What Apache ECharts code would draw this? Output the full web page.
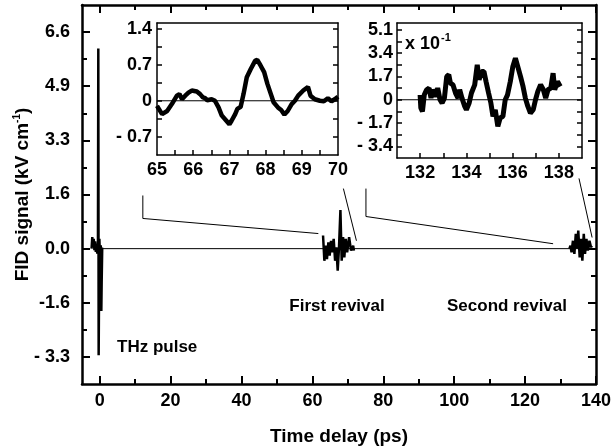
<!DOCTYPE html>
<html>
<head>
<meta charset="utf-8">
<script src="https://cdn.jsdelivr.net/npm/echarts@6/dist/echarts.min.js"></script>
<style>
html,body{margin:0;padding:0;background:#fff;}
#c{width:613px;height:448px;}
</style>
</head>
<body>
<div id="c"></div>
<script>
// ---------- data ----------
const thzPulse = [[-2.3,0.0],[-2.1,0.35],[-1.9,0.05],[-1.7,0.3],[-1.5,-0.05],[-1.3,0.22],[-1.1,-0.1],[-0.9,0.12],[-0.7,-0.15],[-0.5,0.2],[-0.4,6.1],[-0.3,-3.25],[-0.1,0.3],[0.1,-0.35],[0.3,0.1],[0.45,-1.9],[0.55,-1.0],[0.7,0.0],[1.0,0.0]];
const firstRevival = [[63.0,0.40],[63.37,-0.37],[63.74,0.09],[64.1,-0.32],[64.5,0.19],[64.87,-0.21],[65.25,0.24],[65.6,-0.11],[66.0,0.30],[66.4,-0.37],[66.76,0.04],[67.13,-0.67],[67.5,0.04],[67.9,1.18],[68.26,-0.37],[68.65,0.35],[69.0,-0.27],[69.4,0.30],[69.8,-0.11],[70.35,0.35],[70.9,-0.06],[71.5,0.09],[71.7,-0.06]];
const secondRevival = [[132.5,0.0],[132.8,0.09],[133.1,-0.11],[133.5,0.24],[133.9,-0.16],[134.3,0.45],[134.65,0.0],[135.0,0.55],[135.4,-0.27],[135.8,0.30],[136.15,-0.37],[136.55,0.45],[136.9,-0.16],[137.3,0.30],[137.7,-0.06],[138.15,0.24],[138.6,0.04],[138.8,0.09]];
const mainBaseline = [[0,0],[140,0]];
const connectors = [
  [[12.16,1.62],[12.16,0.92],[61.67,0.46]],
  [[68.74,1.83],[72.42,0.24]],
  [[75.1,1.83],[75.1,0.98],[127.9,0.15]],
  [[135.2,2.14],[138.9,0.34]]
];
const inset1Trace = [[65.0,-0.10],[65.14,-0.26],[65.28,-0.20],[65.41,-0.065],[65.55,0.10],[65.62,0.13],[65.69,0.03],[65.78,0.10],[65.87,0.16],[65.96,0.20],[66.1,0.18],[66.19,0.13],[66.27,0.065],[66.33,0.05],[66.39,0.01],[66.51,0.03],[66.6,0.0],[66.7,-0.13],[66.79,-0.29],[66.88,-0.36],[67.0,-0.46],[67.06,-0.39],[67.16,-0.26],[67.22,-0.16],[67.31,-0.12],[67.39,0.13],[67.48,0.46],[67.59,0.62],[67.71,0.78],[67.77,0.80],[67.86,0.69],[67.96,0.56],[68.05,0.33],[68.16,0.10],[68.22,-0.03],[68.34,-0.13],[68.43,-0.18],[68.52,-0.27],[68.61,-0.20],[68.72,-0.065],[68.81,0.0],[68.9,0.10],[69.04,0.20],[69.17,0.27],[69.24,0.10],[69.36,0.03],[69.5,0.0],[69.61,-0.01],[69.72,0.05],[69.82,-0.01],[69.91,0.03],[70.0,0.08]];
const inset1Baseline = [[65,0],[70,0]];
const inset2Trace = [[132.0,0.36],[132.03,-0.6],[132.1,-0.85],[132.18,0.36],[132.28,0.73],[132.39,0.85],[132.47,0.12],[132.54,0.73],[132.66,0.24],[132.76,0.85],[132.86,0.0],[132.95,-0.24],[133.05,0.12],[133.15,1.7],[133.24,1.82],[133.31,1.21],[133.42,1.09],[133.53,0.49],[133.64,0.12],[133.71,0.73],[133.81,0.12],[133.93,-0.49],[134.0,-0.73],[134.12,-0.24],[134.22,0.49],[134.36,1.09],[134.47,2.55],[134.55,1.46],[134.66,2.06],[134.76,2.06],[134.85,1.33],[134.96,0.49],[135.06,-0.24],[135.15,-1.21],[135.25,-0.73],[135.36,-1.94],[135.46,-1.33],[135.58,-1.21],[135.68,0.0],[135.78,0.36],[135.9,1.33],[136.01,2.43],[136.12,3.03],[136.22,2.43],[136.34,1.7],[136.45,0.97],[136.55,0.12],[136.66,-0.49],[136.77,-0.97],[136.89,-0.73],[136.99,0.0],[137.09,0.61],[137.21,1.09],[137.33,0.73],[137.43,0.12],[137.53,0.73],[137.65,0.85],[137.75,1.94],[137.82,0.73],[137.94,1.33],[138.06,0.97]];
const inset2Baseline = [[131,0],[139,0]];

// ticks and labels
const mainXMajor = [0,20,40,60,80,100,120,140];
const mainXMinor = [10,30,50,70,90,110,130];
const mainYMajor = [-3.3,-1.65,0,1.65,3.3,4.95,6.6];
const mainYLabels = ['- 3.3','-1.6','0.0','1.6','3.3','4.9','6.6'];
const mainYMinor = [-2.475,-0.825,0.825,2.475,4.125,5.775];
const inset1XTicks = [65.5,66,66.5,67,67.5,68,68.5,69,69.5];
const inset1XLabels = [65,66,67,68,69,70];
const inset1YTicks = [-0.7,-0.35,0,0.35,0.7,1.05,1.4];
const inset1YValues = [-0.7,0,0.7,1.4];
const inset1YLabels = ['- 0.7','0','0.7','1.4'];
const inset2XTicks = [132,133,134,135,136,137,138];
const inset2XLabels = [132,134,136,138];
const inset2YTicks = [-3.4,-2.55,-1.7,-0.85,0,0.85,1.7,2.55,3.4,4.25,5.1];
const inset2YValues = [-3.4,-1.7,0,1.7,3.4,5.1];
const inset2YLabels = ['- 3.4','- 1.7','0','1.7','3.4','5.1'];

// ---------- chart ----------
const FONT = '"Liberation Sans", Arial, sans-serif';
const lblStyle = {color:'#000', fontFamily:FONT, fontWeight:'bold', fontSize:18};
function pick(values, labels){
  return function(v){
    let best=0, d=1e9;
    values.forEach((x,i)=>{ if(Math.abs(x-v)<d){d=Math.abs(x-v);best=i;} });
    return String(labels[best]);
  };
}
function ax(o){
  const a = {
    type:'value', gridIndex:o.grid, position:o.pos, min:o.min, max:o.max,
    splitLine:{show:false},
    axisLine:{show:!!o.line, onZero:false, lineStyle:{color:'#000', width:o.lw||2}},
    axisTick:{show:!!o.ticks, inside:true, length:o.tlen||5, customValues:o.ticks||[], lineStyle:{color:'#000', width:o.tw||1.5}},
    axisLabel:{show:!!o.labels, margin:o.margin||8, customValues:o.labels||[], formatter:o.fmt, ...lblStyle, showMinLabel:true, showMaxLabel:true},
    axisPointer:{show:false}
  };
  if(o.name){ Object.assign(a, o.name); }
  return a;
}

const xAxes = [
  ax({grid:0,pos:'bottom',min:-5,max:140,line:true,lw:2.5,ticks:mainXMajor,tlen:8,tw:2,labels:mainXMajor,margin:8,fmt:v=>String(v),
     name:{name:'Time delay (ps)', nameLocation:'middle', nameGap:43, nameTextStyle:{color:'#000',fontFamily:FONT,fontWeight:'bold',fontSize:19}}}),
  ax({grid:0,pos:'bottom',min:-5,max:140,ticks:mainXMinor,tlen:5,tw:2}),
  ax({grid:0,pos:'top',min:-5,max:140,line:true,lw:2.5,ticks:mainXMajor,tlen:8,tw:2}),
  ax({grid:0,pos:'top',min:-5,max:140,ticks:mainXMinor,tlen:5,tw:2}),
  ax({grid:1,pos:'bottom',min:65,max:70,line:true,lw:1.5,ticks:inset1XTicks,tlen:5,labels:inset1XLabels,margin:6,fmt:v=>String(Math.round(v))}),
  ax({grid:1,pos:'top',min:65,max:70,line:true,lw:1.5}),
  ax({grid:2,pos:'bottom',min:131,max:139,line:true,lw:1.5,ticks:inset2XTicks,tlen:5,labels:inset2XLabels,margin:6,fmt:v=>String(Math.round(v))}),
  ax({grid:2,pos:'top',min:131,max:139,line:true,lw:1.5})
];
const yAxes = [
  ax({grid:0,pos:'left',min:-4.125,max:7.425,line:true,lw:2.5,ticks:mainYMajor,tlen:8,tw:2,labels:mainYMajor,margin:12,fmt:pick(mainYMajor,mainYLabels),
     name:{name:'{a|FID signal (kV cm}{s|-1}{a|)}', nameLocation:'middle', nameGap:48, nameMoveOverlap:false,
       nameTextStyle:{color:'#000',fontFamily:FONT,fontWeight:'bold',fontSize:19,
         rich:{a:{color:'#000',fontFamily:FONT,fontWeight:'bold',fontSize:19},
               s:{color:'#000',fontFamily:FONT,fontWeight:'bold',fontSize:10,padding:[0,0,12,0]}}}}}),
  ax({grid:0,pos:'left',min:-4.125,max:7.425,ticks:mainYMinor,tlen:5,tw:2}),
  ax({grid:0,pos:'right',min:-4.125,max:7.425,line:true,lw:2.5,ticks:mainYMajor,tlen:8,tw:2}),
  ax({grid:0,pos:'right',min:-4.125,max:7.425,ticks:mainYMinor,tlen:5,tw:2}),
  ax({grid:1,pos:'left',min:-1.06,max:1.52,line:true,lw:1.5,ticks:inset1YTicks,tlen:5,labels:inset1YValues,margin:5,fmt:pick(inset1YValues,inset1YLabels)}),
  ax({grid:1,pos:'right',min:-1.06,max:1.52,line:true,lw:1.5,ticks:inset1YTicks,tlen:5}),
  ax({grid:2,pos:'left',min:-4.25,max:5.6,line:true,lw:1.5,ticks:inset2YTicks,tlen:5,labels:inset2YValues,margin:4,fmt:pick(inset2YValues,inset2YLabels)}),
  ax({grid:2,pos:'right',min:-4.25,max:5.6,line:true,lw:1.5,ticks:inset2YTicks,tlen:5})
];

function line(data, xi, yi, w){
  return {type:'line', data:data, xAxisIndex:xi, yAxisIndex:yi, showSymbol:false, symbol:'none',
    lineStyle:{color:'#000', width:w}, silent:true, animation:false, clip:false, z:3};
}
const series = [
  line(mainBaseline,0,0,1),
  line(thzPulse,0,0,2.5),
  line(firstRevival,0,0,2.5),
  line(secondRevival,0,0,2.5),
  line(inset1Baseline,4,4,1),
  line(inset1Trace,4,4,4.5),
  line(inset2Baseline,6,6,1),
  line(inset2Trace,6,6,5)
];
connectors.forEach(c=>series.push(line(c,0,0,1)));

const chart = echarts.init(document.getElementById('c'), null, {renderer:'canvas'});
chart.setOption({
  animation:false,
  backgroundColor:'#fff',
  grid:[
    {left:82, top:5, width:514, height:379, containLabel:false, outerBoundsMode:'none'},
    {left:157, top:23, width:181, height:132, containLabel:false, outerBoundsMode:'none'},
    {left:397, top:23, width:185, height:135, containLabel:false, outerBoundsMode:'none'}
  ],
  xAxis:xAxes,
  yAxis:yAxes,
  series:series,
  graphic:[
    {type:'text', x:117, y:347, style:{text:'THz pulse', fill:'#000', font:'bold 17px '+FONT, align:'left', verticalAlign:'middle'}},
    {type:'text', x:337, y:306, style:{text:'First revival', fill:'#000', font:'bold 17px '+FONT, align:'center', verticalAlign:'middle'}},
    {type:'text', x:507, y:306, style:{text:'Second revival', fill:'#000', font:'bold 17px '+FONT, align:'center', verticalAlign:'middle'}},
    {type:'text', x:405, y:44, style:{text:'{a|x 10}{s|-1}', align:'left', verticalAlign:'middle',
      rich:{a:{fill:'#000', font:'bold 18px '+FONT}, s:{fill:'#000', font:'bold 11px '+FONT, padding:[0,0,12,1]}}}}
  ]
});
</script>
</body>
</html>
